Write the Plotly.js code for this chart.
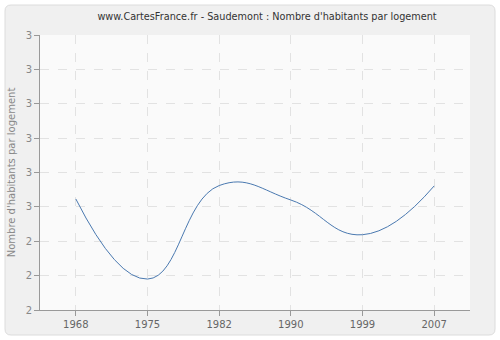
<!DOCTYPE html>
<html><head><meta charset="utf-8">
<script src="https://cdn.plot.ly/plotly-3.0.1.min.js"></script>
<style>html,body{margin:0;padding:0;background:#fff}</style>
</head><body><div id="chart" style="width:500px;height:340px"></div>
<script>
const years = ['1968','1975','1982','1990','1999','2007'];
const values = [2.523, 2.290, 2.562, 2.520, 2.419, 2.561];
const yTickVals = [2.2,2.3,2.4,2.5,2.6,2.7,2.8,2.9,3.0];
const yTickText = ['2','2','2','3','3','3','3','3','3'];

const L=40,R=30,T=35,B=30,W=500,H=340;
const pw=W-L-R, ph=H-T-B;
function px(x){return (x-L)/pw;}
function py(y){return (H-B-y)/ph;}
const x0=px(5),x1=px(495),y0=py(5),y1=py(335);
const rx=6/pw, ry=6/ph;
const path=`M ${x0+rx} ${y0} L ${x1-rx} ${y0} Q ${x1} ${y0} ${x1} ${y0-ry} L ${x1} ${y1+ry} Q ${x1} ${y1} ${x1-rx} ${y1} L ${x0+rx} ${y1} Q ${x0} ${y1} ${x0} ${y1+ry} L ${x0} ${y0-ry} Q ${x0} ${y0} ${x0+rx} ${y0} Z`;

const trace={x:years,y:values,type:'scatter',mode:'lines',
  line:{shape:'spline',smoothing:1.3,color:'#4a79b0',width:1},hoverinfo:'skip'};
const layout={
  width:W,height:H,
  margin:{l:L,r:R,t:T,b:B},
  paper_bgcolor:'#ffffff',plot_bgcolor:'#fafafa',
  font:{family:'DejaVu Sans',size:10,color:'#666'},
  title:{text:"www.CartesFrance.fr - Saudemont : Nombre d'habitants par logement",
    font:{family:'DejaVu Sans',size:9.7,color:'#333'},x:px(267),xanchor:'center',xref:'paper',y:1-17/H,yanchor:'middle'},
  xaxis:{type:'category',range:[-0.5,5.5],showgrid:true,gridcolor:'#e2e2e2',griddash:'dash',
    showline:true,linecolor:'#999',ticks:'outside',ticklen:5,tickcolor:'#999',zeroline:false,
    tickfont:{size:10,color:'#666'}},
  yaxis:{range:[2.2,3.0],tickvals:yTickVals,ticktext:yTickText,showgrid:true,gridcolor:'#e2e2e2',griddash:'dash',
    showline:true,linecolor:'#999',ticks:'outside',ticklen:5,tickcolor:'#999',zeroline:false,
    tickfont:{size:10,color:'#888'},
    title:{text:"Nombre d'habitants par logement",font:{size:10,color:'#888'},standoff:8}},
  shapes:[
    {type:'path',path:path,xref:'paper',yref:'paper',fillcolor:'#f0f0f0',line:{color:'#dcdcdc',width:1},layer:'below'},
    {type:'rect',xref:'paper',yref:'paper',x0:0,x1:1,y0:0,y1:1,fillcolor:'#fafafa',line:{width:0},layer:'below'}
  ],
  showlegend:false
};
Plotly.newPlot('chart',[trace],layout,{staticPlot:true});
</script></body></html>
